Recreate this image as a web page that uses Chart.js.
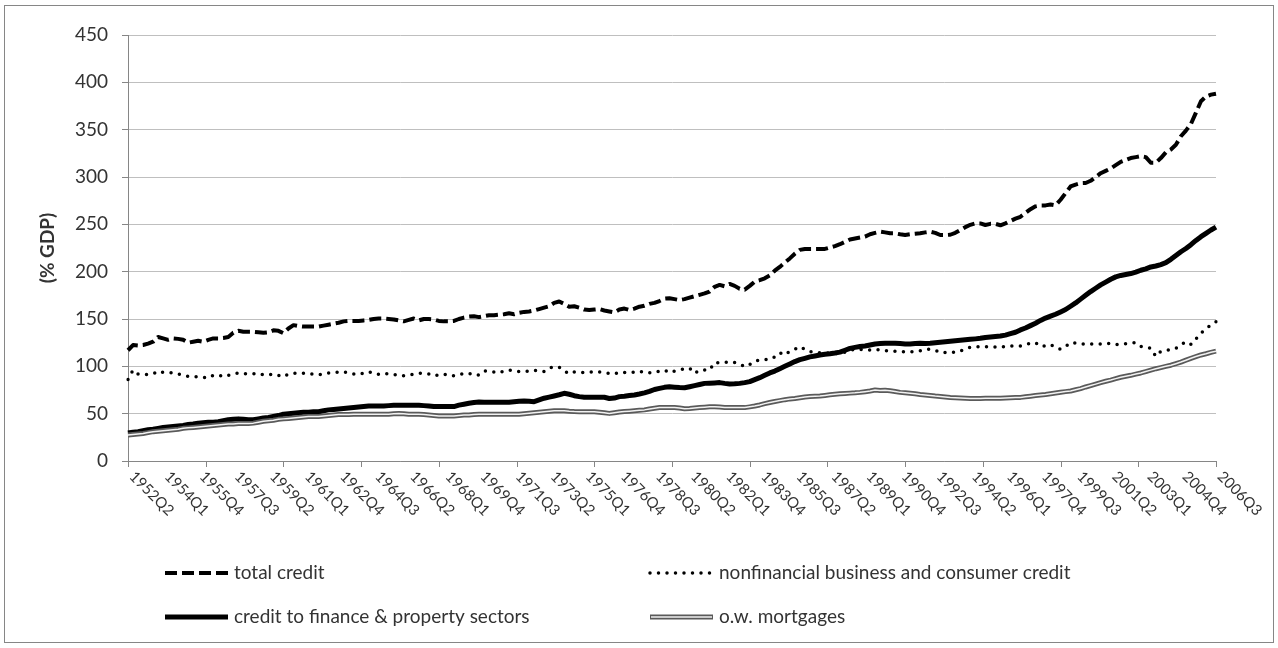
<!DOCTYPE html>
<html>
<head>
<meta charset="utf-8">
<title>Credit (% GDP)</title>
<script src="https://cdn.jsdelivr.net/npm/chart.js@4.4.1/dist/chart.umd.min.js"></script>
<style>
  html, body { margin: 0; padding: 0; background: #fff; }
  #wrap { width: 1278px; height: 648px; position: relative; }
</style>
</head>
<body>
<div id="wrap"><canvas id="creditChart" width="1278" height="648"></canvas></div>
<script>
// quarterly categories, 1952Q2 .. 2006Q3
var quarters = [];
for (var yr = 1952; yr <= 2006; yr++) {
  for (var q = 1; q <= 4; q++) {
    var lab = yr + "Q" + q;
    if (lab >= "1952Q2" && lab <= "2006Q3") quarters.push(lab);
  }
}

// every 7th quarter gets a label
var tickLabels = ["1952Q2", "1954Q1", "1955Q4", "1957Q3", "1959Q2", "1961Q1", "1962Q4", "1964Q3",
  "1966Q2", "1968Q1", "1969Q4", "1971Q3", "1973Q2", "1975Q1", "1976Q4", "1978Q3", "1980Q2", "1982Q1",
  "1983Q4", "1985Q3", "1987Q2", "1989Q1", "1990Q4", "1992Q3", "1994Q2", "1996Q1", "1997Q4", "1999Q3",
  "2001Q2", "2003Q1", "2004Q4", "2006Q3"];

var yTicks = [0, 50, 100, 150, 200, 250, 300, 350, 400, 450];

// values (% GDP)
var totalCredit = [
  117, 122.5, 122, 122.5, 124, 126, 131, 129.5, 128, 129.5, 129, 128, 125, 126, 127, 126, 128, 129.5, 129.5, 130,
  131, 135.5, 137.5, 136.5, 136.5, 136.5, 136, 135.5, 136, 138, 137.5, 135, 140, 143.5, 142.5, 142, 142,
  142, 142, 143, 144, 145, 146, 147.5, 148, 148, 148, 148.5, 149, 150, 150.5, 150.5, 150, 149.5, 148.5, 147.5, 149,
  150.5, 148.5, 150, 150, 149.5, 148, 147.5, 147.5, 148, 150, 151.5, 152.5, 153, 152, 153, 154,
  154, 154.5, 155, 156, 155, 156.5, 157.5, 158, 159, 160.5, 162, 163.5, 167, 168.5, 166, 163, 163.5, 162, 160, 159.5,
  160, 160.5, 159, 158, 157, 160, 161, 159.5, 161, 163, 164, 166, 167, 169, 171.5, 172,
  171, 170, 171, 172.5, 174, 175.5, 177, 179, 184, 186, 184.5, 187, 185, 182, 181, 185, 189.5, 191, 193, 196,
  201, 205, 209.5, 214, 219, 223, 224, 224, 224, 224, 224, 225.5, 227, 229, 231.5, 234,
  235, 236, 237, 239.5, 241, 242.3, 241.5, 240.5, 240.5, 239.5, 238.7, 239.5, 240, 240.5, 241.5, 242.3, 241, 238.7, 238.7, 239,
  241, 244, 247, 249.5, 251, 251, 249.3, 250.5, 250.5, 249, 251, 253.5, 256, 258, 262, 266,
  269, 270, 270, 271, 270, 276, 283, 290, 292, 293.5, 293.7, 296, 300, 304, 306.5, 309, 312.5, 316, 318, 320,
  321, 322, 321, 315, 315, 320, 326, 329, 334, 343, 349, 356, 368, 380, 385, 387, 388
];

var nonfinCredit = [
  86, 96, 92, 91.5, 91.5, 92, 95, 93.5, 93.3, 93.3, 92, 90.8, 89.5, 89, 89, 88.5, 87.7, 90.5, 91, 89,
  90.5, 92, 93, 92.5, 92, 92, 92.6, 91, 91, 92, 90.5, 89, 92, 92.6, 92.6, 92.6, 92.6, 91.5, 91, 92,
  93, 93.3, 94, 94.4, 93, 92, 91.5, 93, 94.4, 92, 91.5, 92.6, 92, 91.5, 90, 90, 90.8, 91.5, 92.6, 92.6,
  92, 90, 91, 91.9, 90, 90, 91, 92.6, 92.6, 90.5, 90.8, 95, 95, 94, 93,
  95, 96, 95, 94.4, 94.4, 95, 96, 95, 94.4, 98, 99.6, 99, 95, 92, 94, 93.6, 93.6, 93.6, 94.4, 94,
  93.3, 92.5, 92, 94, 93.5, 93.3, 94, 95, 93.3, 93.3, 93.3, 95, 96, 93.3, 95, 96, 97.5, 98, 92.6, 96,
  96, 96.1, 103.9, 103.9, 104, 105, 104, 102.5, 99.6, 102, 105.6, 106.5, 107, 107.4, 110, 114.4, 112, 116, 118, 120.8,
  118, 115.5, 114.8, 114.4, 114.4, 114, 113.7, 113.2, 115, 117.3, 117.8, 118, 117.3, 117.3, 118,
  117, 116.6, 116.5, 116, 115.5, 115.5, 115.5, 115.5, 116.5, 118, 118, 117, 114.5, 114.5, 114.4, 115, 116, 119, 120, 120.8,
  120.8, 120.8, 120.8, 120.5, 120, 121, 121.5, 121.5, 121.5, 122.5, 124.5, 125, 121, 121.5, 123, 120, 118, 121, 125, 124.5,
  123.5, 123.5, 123.5, 123.5, 123.5, 124, 124, 123, 123.5, 124, 124.5, 125, 121, 120, 119, 110.5, 116, 117, 117.3, 119,
  123, 126, 123.2, 129, 135, 140, 143.5, 147
];

var financePropertyCredit = [
  29.5, 30.5, 31, 32, 33, 33.5, 34.5, 35.5, 36, 36.5, 37, 37.5, 38.5, 39, 40, 40.5, 41, 41, 41.5, 42.5,
  43.5, 44, 44.5, 44, 43.5, 43.5, 44.5, 45.5, 46, 47, 48, 49.5, 50, 50.5, 51, 51.5, 51.5, 52, 52, 53,
  54, 54.5, 55, 55.5, 56, 56.5, 57, 57.5, 58, 58, 58, 58, 58.5, 59, 59, 59, 59, 59, 59, 58.5,
  58, 57.5, 57.5, 57.5, 57.5, 57.5, 59, 60, 61, 61.8, 62.3, 62, 62, 62, 62,
  62, 62, 62.5, 63, 63.4, 63.2, 62.7, 64.5, 66.3, 67.5, 68.7, 70, 71.5, 70.5, 69, 68, 67.3, 67.3, 67.3, 67.3,
  67.3, 66, 66.5, 68, 68.5, 69.2, 69.8, 70.8, 72, 73.5, 75.5, 76.7, 77.8, 78.5, 78, 77.6, 77.4, 78.5, 79.6, 80.8,
  82, 82.2, 82.5, 82.8, 82, 81.4, 81.5, 82, 82.8, 83.9, 86, 88, 90.5, 93, 95, 97.5, 100, 102.5, 105, 107,
  108.5, 110, 111, 112, 112.8, 113.3, 114, 115, 117, 119, 120, 121, 121.5, 122.5, 123.6,
  124, 124.3, 124.3, 124.3, 124, 123.5, 123.5, 124, 124.3, 124, 124.3, 125, 125.5, 126, 126.5, 127.1, 127.5, 128, 128.5, 129,
  129.6, 130.5, 131, 131.5, 132, 133, 134.5, 136, 138.5, 140.5, 143, 145.5, 148.5, 151, 153, 155, 157.5, 160, 163.5, 167,
  171, 175, 179, 182.5, 186, 189, 192, 194.5, 196, 197, 198, 199.5, 201.5, 203, 205, 206, 207.5, 209.5, 213, 217,
  221, 224.5, 228.5, 233, 237, 240.5, 244, 247
];

var mortgages = [
  27.5, 28, 28.5, 29, 30, 31, 31.5, 32, 32.5, 33, 33.5, 34.5, 35, 35.5, 36, 36.5, 37, 37.5, 38, 38.5,
  39, 39, 39.5, 39.5, 39.5, 40, 41, 42, 42.5, 43, 44, 44.5, 45, 45.5, 46, 46.5, 47, 47, 47, 47.5,
  48, 48.5, 49, 49, 49, 49.3, 49.3, 49.3, 49.3, 49.3, 49.3, 49.3, 49.5, 50, 50.3, 50, 49.3, 49.3, 49.3, 49,
  48.5, 48, 47.5, 47.5, 47.5, 47.5, 48, 48.5, 48.5, 49, 49.3, 49.3, 49.3, 49.3, 49.3,
  49.3, 49.3, 49.5, 49.5, 50, 50.5, 51, 51.5, 52, 52.5, 53, 53.2, 53, 52.5, 52.2, 52.1, 52.1, 52.1, 52, 51.5,
  51, 50.3, 51, 51.8, 52.3, 52.6, 53, 53.5, 54, 55, 55.8, 56.4, 56.4, 56.4, 56.4, 56, 55.2, 55.5, 56, 56.4,
  56.8, 57.2, 57.4, 57, 56.5, 56.4, 56.4, 56.4, 56.4, 57.2, 58.1, 59.2, 60.6, 61.8, 62.8, 63.8, 64.8, 65.6, 66, 66.8,
  67.7, 68.2, 68.5, 68.7, 69.3, 70, 70.5, 71, 71.4, 71.7, 72, 72.5, 73.2, 74, 75,
  74.5, 74.8, 74.3, 73.5, 72.5, 72, 71.5, 71, 70.3, 69.8, 69.2, 68.6, 68.2, 67.6, 67, 66.8, 66.5, 66.2, 65.9, 66,
  66.1, 66.2, 66.2, 66.2, 66.2, 66.5, 66.8, 67, 67.2, 67.8, 68.5, 69.2, 69.8, 70.3, 71, 71.8, 72.6, 73.3, 74, 75.2,
  76.5, 78.2, 79.7, 81.2, 82.8, 84.2, 85.5, 87, 88.5, 89.5, 90.5, 91.8, 93, 94.5, 96, 97.5, 98.7, 100, 101.2, 102.8,
  104.5, 106.5, 108.5, 110.3, 112, 113.3, 114.8, 116
];

var textColor = "#333333";
var axisColor = "#868686";
var fontFamily = "Lato, 'Open Sans', sans-serif";

// white page, grey frame round the whole chart
var chartFrame = {
  id: "chartFrame",
  beforeDraw: function(chart) {
    var ctx = chart.ctx;
    ctx.save();
    ctx.fillStyle = "#ffffff";
    ctx.fillRect(0, 0, chart.width, chart.height);
    ctx.strokeStyle = axisColor;
    ctx.lineWidth = 1;
    ctx.strokeRect(4.5, 5.5, chart.width - 9, chart.height - 11);
    ctx.restore();
  }
};

// x tick marks, slanted quarter labels and the two-column legend
var axisExtras = {
  id: "axisExtras",
  afterDraw: function(chart) {
    var ctx = chart.ctx;
    var area = chart.chartArea;
    var xs = chart.scales.x;
    ctx.save();

    ctx.strokeStyle = axisColor;
    ctx.lineWidth = 1;
    var nMarks = 14;
    for (var k = 0; k <= nMarks; k++) {
      var tx = Math.round(area.left + (area.right - area.left) * k / nMarks) + 0.5;
      ctx.beginPath();
      ctx.moveTo(tx, area.bottom);
      ctx.lineTo(tx, area.bottom + 6);
      ctx.stroke();
    }

    ctx.fillStyle = textColor;
    ctx.font = "15px " + fontFamily;
    ctx.textAlign = "left";
    ctx.textBaseline = "middle";
    tickLabels.forEach(function(lbl) {
      var px = xs.getPixelForValue(quarters.indexOf(lbl));
      ctx.save();
      ctx.translate(px + 4, area.bottom + 13);
      ctx.rotate(Math.PI / 4);
      ctx.fillText(lbl, 0, 0);
      ctx.restore();
    });

    // legend
    var ds = chart.data.datasets;
    var items = [
      { d: ds[0], x: 165, y: 573 },
      { d: ds[1], x: 650, y: 573 },
      { d: ds[2], x: 165, y: 617 },
      { d: ds[3], inner: ds[4], x: 650, y: 617 }
    ];
    ctx.font = "19px " + fontFamily;
    items.forEach(function(it) {
      var len = 63;
      ctx.save();
      ctx.strokeStyle = it.d.borderColor;
      ctx.lineWidth = it.d.borderWidth;
      ctx.lineCap = it.d.borderCapStyle || "butt";
      ctx.setLineDash(it.d.borderDash || []);
      ctx.beginPath();
      ctx.moveTo(it.x, it.y);
      ctx.lineTo(it.x + len, it.y);
      ctx.stroke();
      if (it.inner) {
        ctx.strokeStyle = it.inner.borderColor;
        ctx.lineWidth = it.inner.borderWidth;
        ctx.beginPath();
        ctx.moveTo(it.x + 1, it.y);
        ctx.lineTo(it.x + len - 1, it.y);
        ctx.stroke();
      }
      ctx.restore();
      ctx.fillStyle = textColor;
      ctx.fillText(it.d.label, it.x + len + 6, it.y);
    });

    ctx.restore();
  }
};

var ctx = document.getElementById("creditChart").getContext("2d");
var creditChart = new Chart(ctx, {
  type: "line",
  data: {
    labels: quarters,
    datasets: [
      { label: "total credit", data: totalCredit, borderColor: "#000000", borderWidth: 4,
        borderDash: [12, 5], order: 4 },
      { label: "nonfinancial business and consumer credit", data: nonfinCredit, borderColor: "#000000",
        borderWidth: 3.5, borderDash: [0, 8.5], borderCapStyle: "round", order: 3 },
      { label: "credit to finance & property sectors", data: financePropertyCredit, borderColor: "#000000",
        borderWidth: 5, order: 2 },
      { label: "o.w. mortgages", data: mortgages, borderColor: "#5a5a5a", borderWidth: 5, order: 1 },
      { label: "", data: mortgages, borderColor: "#f2f2f2", borderWidth: 1.5, order: 0 }
    ]
  },
  options: {
    responsive: false,
    animation: false,
    layout: { padding: { left: 5, top: 35, right: 62, bottom: 0 } },
    elements: {
      point: { radius: 0 },
      line: { tension: 0, borderJoinStyle: "round" }
    },
    plugins: {
      legend: { display: false },
      tooltip: { enabled: false }
    },
    scales: {
      x: {
        type: "category",
        offset: false,
        grid: { display: false },
        border: { display: true, color: axisColor, width: 1 },
        ticks: { display: false },
        afterFit: function(scale) { scale.height = 187; }
      },
      y: {
        min: 0,
        max: 450,
        afterBuildTicks: function(scale) {
          scale.ticks = yTicks.map(function(v) { return { value: v }; });
        },
        ticks: { padding: 14, color: textColor, font: { family: fontFamily, size: 19 } },
        grid: { color: "#bfbfbf", tickLength: 6, tickColor: axisColor },
        border: { color: axisColor },
        title: {
          display: true,
          text: "(% GDP)",
          color: textColor,
          font: { family: fontFamily, size: 19, weight: "bold" },
          padding: { top: 31, bottom: 0 }
        },
        afterFit: function(scale) { scale.width = 123; }
      }
    }
  },
  plugins: [chartFrame, axisExtras]
});
</script>
</body>
</html>
